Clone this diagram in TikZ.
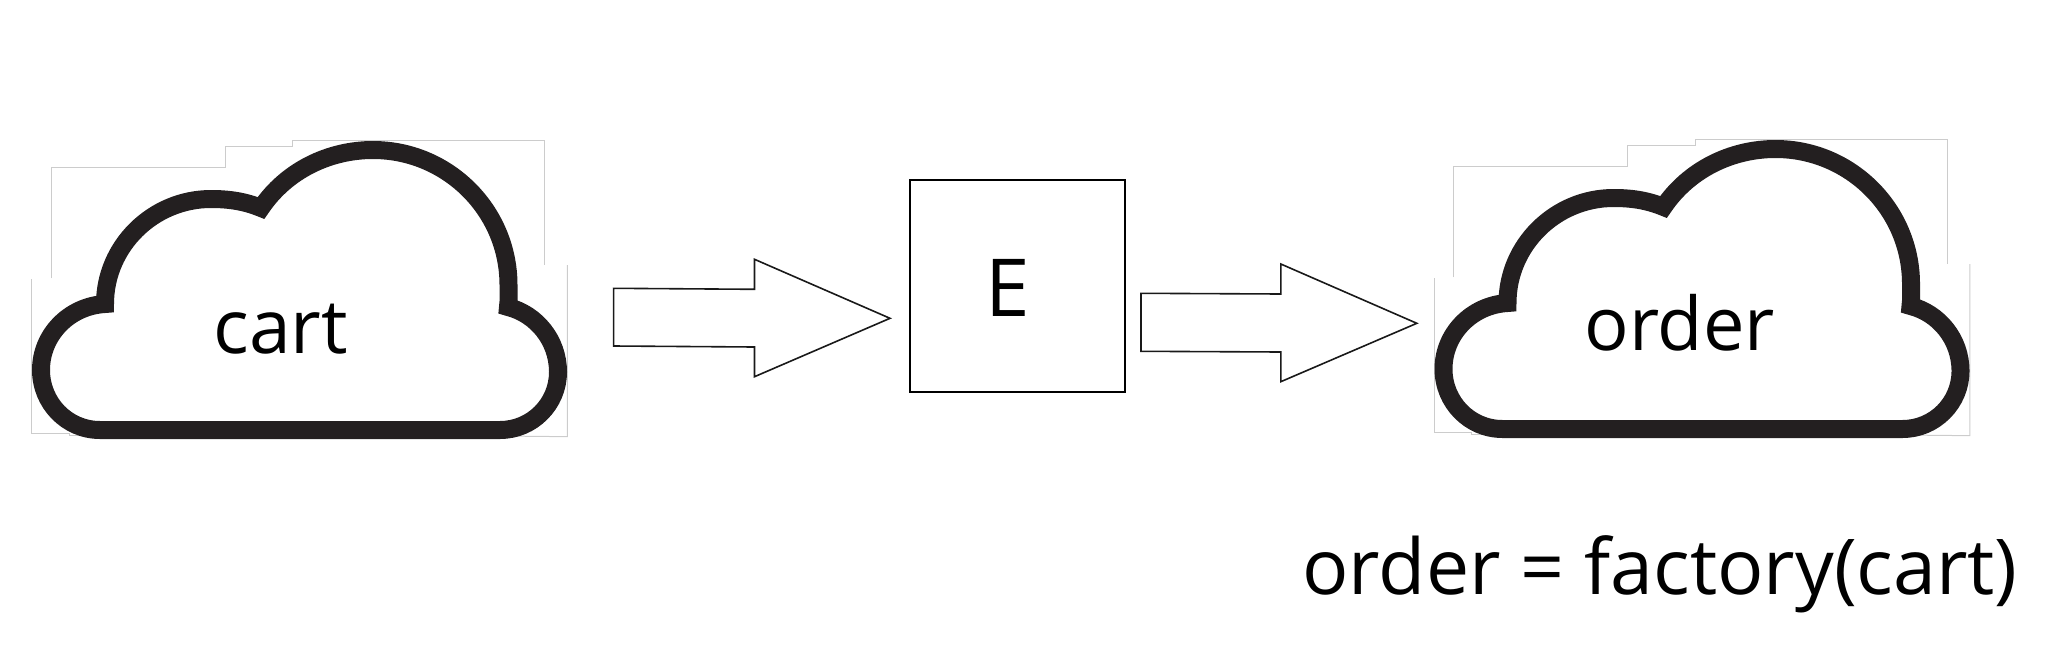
\documentclass[tikz,border=0pt]{standalone}
\usepackage{fontspec}
\setmainfont{Open Sans}
\tikzset{
  cloudicon/.pic={
    \begin{scope}[x=0.1977pt,y=-0.16667pt]
      \draw[cloudframe] (130,535) -- (130,202) -- (570,202) -- (570,138) -- (740,138) -- (740,120) -- (1378,120) -- (1378,495);
      \draw[cloudframe] (1435,495) -- (1435,1010) -- (1270,1008);
      \draw[cloudframe] (80,537) -- (80,1000) -- (175,1000) -- (175,1006) -- (240,1006);
    \end{scope}
    \begin{scope}[shift={(0,-100)}]
      \draw[cloudline] (100,430) -- (500,430)
        .. controls (532,430) and (558,404) .. (558,372)
        .. controls (558,340) and (536,314) .. (508,307)
        .. controls (509,300) and (508.5,292) .. (508.5,285)
        .. controls (508.5,210.4) and (447.6,150) .. (373,150)
        .. controls (328.4,150) and (286,171) .. (261,208)
        .. controls (244,201) and (228,199) .. (211,199)
        .. controls (153,199) and (105,246) .. (105,304)
        .. controls (69,306) and (41,335) .. (41,370)
        .. controls (41,403) and (67,430) .. (100,430) -- cycle;
      \fill[cloudink] (95,421.7) rectangle (502,438.3);
    \end{scope}
  },
  cloudframe/.style={draw=black!20,line width=0.5pt},
  cloudline/.style={draw=cloudink,line width=9pt,line join=miter,miter limit=10},
  outlinebox/.style={draw=black,line width=1pt,line join=miter},
  blockarrow/.style={draw=black!90,line width=0.8pt,line join=miter,miter limit=10},
  label/.style={inner sep=0pt,anchor=base west,text=black,font=\fontsize{38}{46}\selectfont},
  px/.style={x=0.5pt,y=-0.5pt}
}
\definecolor{cloudink}{HTML}{231F20}
\begin{document}
\begin{tikzpicture}[px]
  \useasboundingbox (0,0) rectangle (2065,669);
  \pic at (0,100) {cloudicon};
  \pic at (1402.5,99) {cloudicon};
  \node[label,font=\fontsize{37.5}{46}\selectfont] (cart) at (213,353) {cart};
  \node[label,font=\fontsize{37}{46}\selectfont] (order) at (1584,350) {order};
  \node[label,font=\fontsize{40}{46}\selectfont] (e) at (985,316) {E};
  \node[label,font=\fontsize{38.5}{46}\selectfont] (formula) at (1302,594) {order = factory(cart)};
  \draw[outlinebox] (910,180) rectangle (1124.7,391.7);
  \draw[blockarrow] (613.6,288.3) -- (754.5,289.3) -- (754.5,259.3) -- (890,318.3) -- (754.5,376.7) -- (754.5,347) -- (613.6,346) -- cycle;
  \draw[blockarrow] (1141,293.3) -- (1280.8,294) -- (1280.8,264) -- (1416.8,323.3) -- (1280.8,381.7) -- (1280.8,352) -- (1141,351.3) -- cycle;
\end{tikzpicture}
\end{document}
